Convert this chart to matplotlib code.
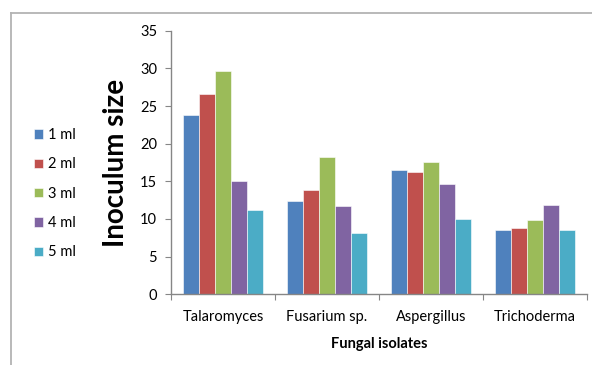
import matplotlib.pyplot as plt
from matplotlib.lines import Line2D
import numpy as np

plt.rcParams['font.family'] = ['Lato', 'DejaVu Sans']

isolates = ["Talaromyces", "Fusarium sp.", "Aspergillus", "Trichoderma"]
volumes = ["1 ml", "2 ml", "3 ml", "4 ml", "5 ml"]
ml_1 = [23.8, 12.4, 16.5, 8.5]
ml_2 = [26.6, 13.8, 16.3, 8.8]
ml_3 = [29.7, 18.2, 17.6, 9.8]
ml_4 = [15.1, 11.7, 14.7, 11.8]
ml_5 = [11.2, 8.2, 10.0, 8.5]
series = [ml_1, ml_2, ml_3, ml_4, ml_5]
colors = ["#4F81BD", "#C0504D", "#9BBB59", "#8064A2", "#4BACC6"]

fig = plt.figure(figsize=(5.92, 3.65), dpi=100)
ax = fig.add_axes([0.289, 0.1937, 0.7026, 0.7222])

x = np.arange(len(isolates))
w = 0.153
handles = []
for i, (vals, c) in enumerate(zip(series, colors)):
    b = ax.bar(x + (i - 2) * w, vals, w, color=c, edgecolor="white", linewidth=0.4, zorder=2)
    handles.append(b)

ax.set_xlim(-0.5, len(isolates) - 0.5)
ax.set_ylim(0, 35)
ax.set_yticks(range(0, 36, 5))

# category boundaries get the tick marks, names sit between them
ax.set_xticks(np.arange(-0.5, len(isolates), 1.0))
ax.set_xticklabels([])
ax.set_xticks(x, minor=True)
ax.set_xticklabels(isolates, minor=True)
ax.tick_params(axis="x", which="minor", length=0, pad=11, labelsize=10.5, colors="#000000")
ax.tick_params(axis="x", which="major", length=4, color="#868686", direction="out")
ax.tick_params(axis="y", length=4, color="#868686", labelsize=10.5, pad=6)

for s in ["top", "right"]:
    ax.spines[s].set_visible(False)
for s in ["left", "bottom"]:
    ax.spines[s].set_color("#868686")
    ax.spines[s].set_linewidth(1.0)

ax.set_ylabel("Inoculum size", fontsize=20, fontweight="bold", labelpad=8)
ax.set_xlabel("Fungal isolates", fontsize=10.5, fontweight="bold", labelpad=10)

fig.legend(handles, volumes, loc="upper left", bbox_to_anchor=(0.035, 0.685),
           frameon=False, fontsize=10.5, handlelength=0.6, handleheight=0.6,
           handletextpad=0.4, labelspacing=1.05)

# chart border, left and top edges
bx, by = 11 / 592, 1 - 13 / 365
fig.add_artist(Line2D([bx, bx], [0, by], color="#b3b3b3", lw=1.3))
fig.add_artist(Line2D([bx, 1], [by, by], color="#b3b3b3", lw=1.3))

fig.savefig("out.png", dpi=100)
